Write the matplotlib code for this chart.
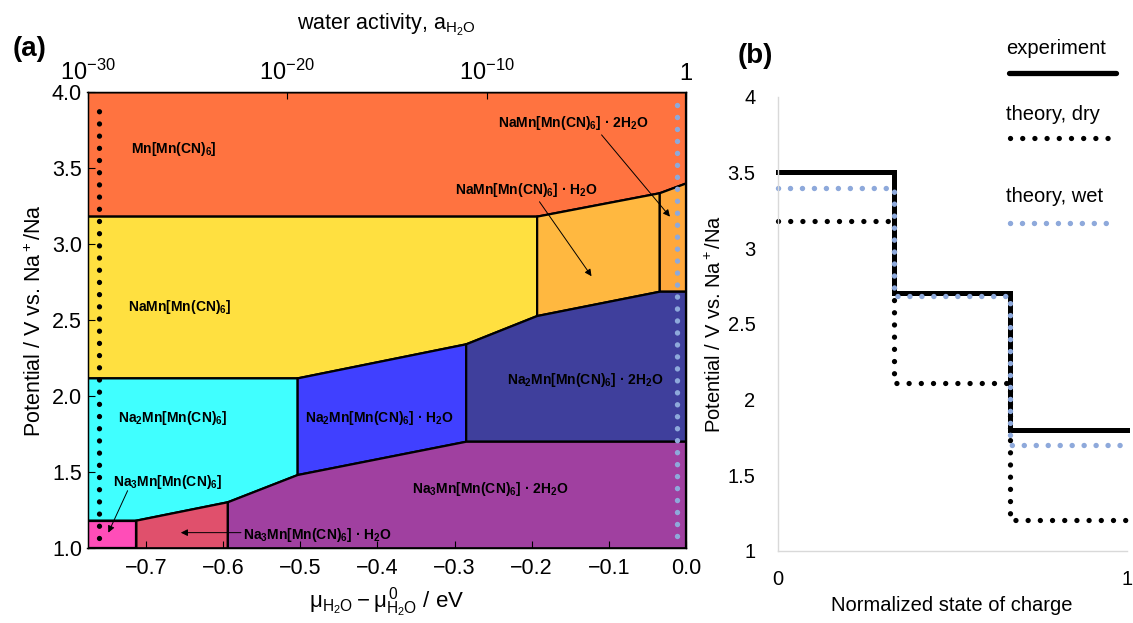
import matplotlib
matplotlib.use('Agg')
import matplotlib.pyplot as plt
from matplotlib.patches import Polygon
from matplotlib.lines import Line2D

plt.rcParams['font.family'] = ['Liberation Sans', 'DejaVu Sans']
plt.rcParams['mathtext.fontset'] = 'custom'
plt.rcParams['mathtext.rm'] = 'Liberation Sans'
plt.rcParams['mathtext.it'] = 'Liberation Sans:italic'
plt.rcParams['mathtext.bf'] = 'Liberation Sans:bold'

# ---- (a) phase diagram data: corners as (mu - mu0 / eV, potential / V)
mu_min = -0.776      # a_H2O = 1e-30
log_a_min = -30

mn_hcf = [(mu_min, 4.0), (0.0, 4.0), (0.0, 3.40), (-0.034, 3.336), (-0.193, 3.182), (mu_min, 3.182)]
na1 = [(mu_min, 3.182), (-0.193, 3.182), (-0.193, 2.528), (-0.285, 2.342), (-0.5035, 2.118), (mu_min, 2.118)]
na1_h2o = [(-0.193, 3.182), (-0.034, 3.336), (-0.034, 2.688), (-0.193, 2.528)]
na1_2h2o = [(-0.034, 3.336), (0.0, 3.40), (0.0, 2.688), (-0.034, 2.688)]
na2 = [(mu_min, 2.118), (-0.5035, 2.118), (-0.5035, 1.482), (-0.594, 1.303), (-0.7126, 1.182), (mu_min, 1.182)]
na2_h2o = [(-0.5035, 2.118), (-0.285, 2.342), (-0.285, 1.701), (-0.5035, 1.482)]
na2_2h2o = [(-0.285, 2.342), (-0.193, 2.528), (-0.034, 2.688), (0.0, 2.688), (0.0, 1.701), (-0.285, 1.701)]
na3 = [(mu_min, 1.182), (-0.7126, 1.182), (-0.7126, 1.0), (mu_min, 1.0)]
na3_h2o = [(-0.7126, 1.182), (-0.594, 1.303), (-0.594, 1.0), (-0.7126, 1.0)]
na3_2h2o = [(-0.594, 1.303), (-0.5035, 1.482), (-0.285, 1.701), (0.0, 1.701), (0.0, 1.0), (-0.594, 1.0)]

phases = [mn_hcf, na1, na1_h2o, na1_2h2o, na2, na2_h2o, na2_2h2o, na3, na3_h2o, na3_2h2o]
phase_colors = ['#FF7340', '#FFE040', '#FFB840', '#FFA83C', '#40FFFF',
                '#4040FF', '#3F3F9C', '#FF4DB8', '#E0506C', '#A040A0']

# water chemical potential of the dry / wet theory curves
dry_mu = -0.761
wet_mu = -0.012

# ---- (b) voltage steps vs normalized state of charge
soc = [0, 1/3, 2/3, 1]
v_exp = [3.50, 2.70, 1.80, 1.80]
v_dry = [3.18, 2.11, 1.20, 1.20]
v_wet = [3.40, 2.68, 1.70, 1.70]

W, H = 1133, 623
fig = plt.figure(figsize=(W / 100, H / 100), dpi=100)

ax = fig.add_axes([87.5 / W, 1 - 548.3 / H, (686 - 87.5) / W, (548.3 - 92.3) / H])
for pts, c in zip(phases, phase_colors):
    ax.add_patch(Polygon(pts, closed=True, facecolor=c, edgecolor='k', lw=1.6, joinstyle='miter'))

ax.plot([dry_mu, dry_mu], [1.07, 3.90], color='k', lw=3.8, ls=(0, (0.01, 2.3)),
        dash_capstyle='round', zorder=5)
ax.plot([wet_mu, wet_mu], [1.08, 3.98], color='#8EA9DB', lw=3.9, ls=(0, (0.01, 2.2)),
        dash_capstyle='round', zorder=5)

ax.set_xlim(mu_min, 0)
ax.set_ylim(1, 4)
ax.set_xticks([-0.7, -0.6, -0.5, -0.4, -0.3, -0.2, -0.1, 0.0])
ax.set_xticklabels(['\u22120.7', '\u22120.6', '\u22120.5', '\u22120.4', '\u22120.3',
                    '\u22120.2', '\u22120.1', '0.0'])
ax.set_yticks([1.0, 1.5, 2.0, 2.5, 3.0, 3.5, 4.0])
ax.set_yticklabels(['1.0', '1.5', '2.0', '2.5', '3.0', '3.5', '4.0'])
ax.tick_params(direction='in', length=5, labelsize=15.5, width=0.8)
ax.tick_params(axis='x', pad=7)
ax.tick_params(axis='y', pad=4)
for s in ax.spines.values():
    s.set_linewidth(1.0)
    s.set_zorder(6)
ax.set_xlabel(r'$\mathregular{\mu_{H_2O}-\mu^{\,0}_{H_2O}}$ / eV', fontsize=16, labelpad=5)
ax.set_ylabel(r'Potential / V vs. Na$^+$/Na', fontsize=15.5, labelpad=4)

axt = ax.twiny()
axt.set_xlim(log_a_min, 0)
axt.set_xticks([-30, -20, -10, 0])
axt.set_xticklabels([r'$\mathregular{10^{-30}}$', r'$\mathregular{10^{-20}}$',
                     r'$\mathregular{10^{-10}}$', '1'])
axt.tick_params(direction='in', length=5, labelsize=17, width=0.8, pad=5)
axt.set_xlabel(r'water activity, a$_{\mathregular{H_2O}}$', fontsize=15.5, labelpad=22)

lab = dict(fontsize=10, fontweight='bold', va='center', ha='left', zorder=7)
ax.text(-0.720, 3.625, r'Mn[Mn(CN)$_\mathbf{6}$]', **lab)
ax.text(-0.723, 2.59, r'NaMn[Mn(CN)$_\mathbf{6}$]', **lab)
ax.text(-0.736, 1.855, r'Na$_\mathbf{2}$Mn[Mn(CN)$_\mathbf{6}$]', **lab)
ax.text(-0.743, 1.438, r'Na$_\mathbf{3}$Mn[Mn(CN)$_\mathbf{6}$]', **lab)
ax.text(-0.574, 1.0875, r'Na$_\mathbf{3}$Mn[Mn(CN)$_\mathbf{6}$] · H$_\mathbf{2}$O', **lab)
ax.text(-0.4935, 1.857, r'Na$_\mathbf{2}$Mn[Mn(CN)$_\mathbf{6}$] · H$_\mathbf{2}$O', **lab)
ax.text(-0.232, 2.11, r'Na$_\mathbf{2}$Mn[Mn(CN)$_\mathbf{6}$] · 2H$_\mathbf{2}$O', **lab)
ax.text(-0.355, 1.388, r'Na$_\mathbf{3}$Mn[Mn(CN)$_\mathbf{6}$] · 2H$_\mathbf{2}$O', **lab)
ax.text(-0.2437, 3.80, r'NaMn[Mn(CN)$_\mathbf{6}$] · 2H$_\mathbf{2}$O', **lab)
ax.text(-0.300, 3.357, r'NaMn[Mn(CN)$_\mathbf{6}$] · H$_\mathbf{2}$O', **lab)

arr = dict(arrowstyle='-|>', color='k', lw=0.7, mutation_scale=10, shrinkA=0, shrinkB=0)
ax.annotate('', xy=(-0.0208, 3.182), xytext=(-0.1095, 3.72), arrowprops=arr, zorder=7)
ax.annotate('', xy=(-0.1225, 2.79), xytext=(-0.190, 3.28), arrowprops=arr, zorder=7)
ax.annotate('', xy=(-0.749, 1.103), xytext=(-0.724, 1.379), arrowprops=arr, zorder=7)
ax.annotate('', xy=(-0.655, 1.103), xytext=(-0.577, 1.103), arrowprops=arr, zorder=7)

fig.text(30 / W, 1 - 49 / H, '(a)', fontsize=20, fontweight='bold', ha='center', va='center')

# ---- (b)
bx = fig.add_axes([777.7 / W, 1 - 550.7 / H, (1126.7 - 777.7) / W, (550.7 - 96.7) / H])
bx.step(soc, v_exp, where='post', color='k', lw=3.6, solid_joinstyle='miter', clip_on=False)
bx.step(soc, v_dry, where='post', color='k', lw=3.8, ls=(0, (0.01, 2.3)),
        dash_capstyle='round', clip_on=False)
bx.step(soc, v_wet, where='post', color='#8EA9DB', lw=3.9, ls=(0, (0.01, 2.2)),
        dash_capstyle='round', clip_on=False)
bx.set_xlim(0, 1)
bx.set_ylim(1, 4)
bx.set_xticks([0, 1])
bx.set_xticklabels(['0', '1'])
bx.set_yticks([1, 1.5, 2, 2.5, 3, 3.5, 4])
bx.set_yticklabels(['1', '1.5', '2', '2.5', '3', '3.5', '4'])
bx.tick_params(length=0, labelsize=14.5, pad=16)
bx.tick_params(axis='x', pad=14)
for side in ['top', 'right']:
    bx.spines[side].set_visible(False)
for side in ['left', 'bottom']:
    bx.spines[side].set_color('#D9D9D9')
    bx.spines[side].set_linewidth(1.0)
bx.set_xlabel('Normalized state of charge', fontsize=14.5, labelpad=5)
bx.set_ylabel(r'Potential / V vs. Na$^+$/Na', fontsize=14.5, labelpad=2)

fig.text(755 / W, 1 - 56 / H, '(b)', fontsize=20, fontweight='bold', ha='center', va='center')

# legend, text above each sample line
leg_names = ['experiment', 'theory, dry', 'theory, wet']
leg_text_y = [49, 114, 197]
fig.lines.append(Line2D([1009 / W, 1116 / W], [1 - 72.7 / H] * 2, transform=fig.transFigure,
                        color='k', lw=3.8, solid_capstyle='round'))
fig.lines.append(Line2D([1010 / W, 1108 / W], [1 - 138 / H] * 2, transform=fig.transFigure,
                        color='k', lw=3.8, ls=(0, (0.01, 2.3)), dash_capstyle='round'))
fig.lines.append(Line2D([1010 / W, 1108 / W], [1 - 222.7 / H] * 2, transform=fig.transFigure,
                        color='#8EA9DB', lw=3.9, ls=(0, (0.01, 2.2)), dash_capstyle='round'))
for name, ty in zip(leg_names, leg_text_y):
    fig.text(1006 / W, 1 - ty / H, name, fontsize=14.5, ha='left', va='center')

fig.savefig('out.png', dpi=100)
